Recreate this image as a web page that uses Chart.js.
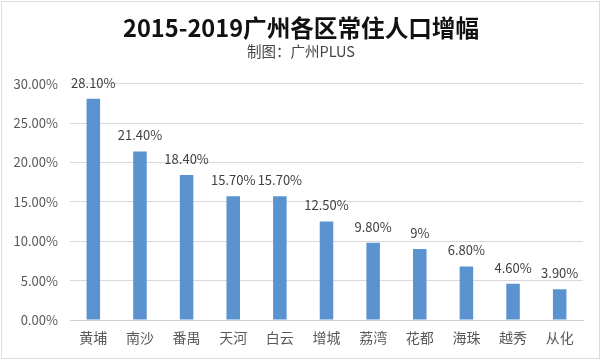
<!DOCTYPE html>
<html>
<head>
<meta charset="utf-8">
<script src="https://cdn.jsdelivr.net/npm/chart.js@4/dist/chart.umd.min.js"></script>
<style>
    body { margin: 0; background: #fff; }
    #wrap { position: relative; width: 602px; height: 362px; }
    #frame { position: absolute; left: 1px; top: 1px; width: 597px; height: 356px; border: 1px solid #dcdcdc; pointer-events: none; }
</style>
</head>
<body>
<div id="wrap">
    <canvas id="chart" width="602" height="362"></canvas>
    <div id="frame"></div>
</div>
<script>
const districts = ['黄埔', '南沙', '番禺', '天河', '白云', '增城', '荔湾', '花都', '海珠', '越秀', '从化'];
const growth = [28.1, 21.4, 18.4, 15.7, 15.7, 12.5, 9.8, 9, 6.8, 4.6, 3.9];
const growthLabels = ['28.10%', '21.40%', '18.40%', '15.70%', '15.70%', '12.50%', '9.80%', '9%', '6.80%', '4.60%', '3.90%'];
const yTicks = [0, 5, 10, 15, 20, 25, 30];

const fontFamily = '"Noto Sans CJK SC", "Noto Sans", sans-serif';

// value labels above each bar
const barLabels = {
    id: 'barLabels',
    afterDatasetsDraw(chart) {
        const ctx = chart.ctx;
        const meta = chart.getDatasetMeta(0);
        ctx.save();
        ctx.font = '13px ' + fontFamily;
        ctx.fillStyle = '#404040';
        ctx.textAlign = 'center';
        ctx.textBaseline = 'middle';
        meta.data.forEach((bar, i) => {
            ctx.fillText(growthLabels[i], bar.x, bar.y - 16);
        });
        ctx.restore();
    }
};

new Chart(document.getElementById('chart'), {
    type: 'bar',
    data: {
        labels: districts,
        datasets: [{
            data: growth,
            backgroundColor: '#5b93d1',
            categoryPercentage: 1,
            barPercentage: 0.29
        }]
    },
    options: {
        responsive: false,
        animation: false,
        layout: { padding: 0 },
        plugins: {
            legend: { display: false },
            tooltip: { enabled: false },
            title: {
                display: true,
                text: '2015-2019广州各区常住人口增幅',
                color: '#111',
                font: { family: fontFamily, size: 23.6, weight: 'bold' },
                padding: { top: 14, bottom: 0 }
            },
            subtitle: {
                display: true,
                text: '制图：广州PLUS',
                color: '#444',
                font: { family: fontFamily, size: 14.5 },
                padding: { top: 0, bottom: 24 }
            }
        },
        scales: {
            x: {
                grid: { display: false },
                border: { color: '#d0d0d0' },
                ticks: {
                    color: '#595959',
                    padding: 1,
                    font: { family: fontFamily, size: 14 }
                },
                afterFit(scale) { scale.height = 42; }
            },
            y: {
                min: 0,
                max: 30,
                afterBuildTicks(scale) { scale.ticks = yTicks.map(v => ({ value: v })); },
                grid: { color: '#d9d9d9', drawTicks: false },
                border: { display: false },
                ticks: {
                    color: '#595959',
                    padding: 12,
                    font: { family: fontFamily, size: 13 },
                    callback: v => v.toFixed(2) + '%'
                },
                afterFit(scale) { scale.width = 70; }
            },
            // empty right-hand axis, only keeps the margin on the right
            yRight: {
                position: 'right',
                min: 0,
                max: 30,
                grid: { display: false },
                border: { display: false },
                ticks: { display: false },
                afterFit(scale) { scale.width = 19; }
            }
        }
    },
    plugins: [barLabels]
});
</script>
</body>
</html>
